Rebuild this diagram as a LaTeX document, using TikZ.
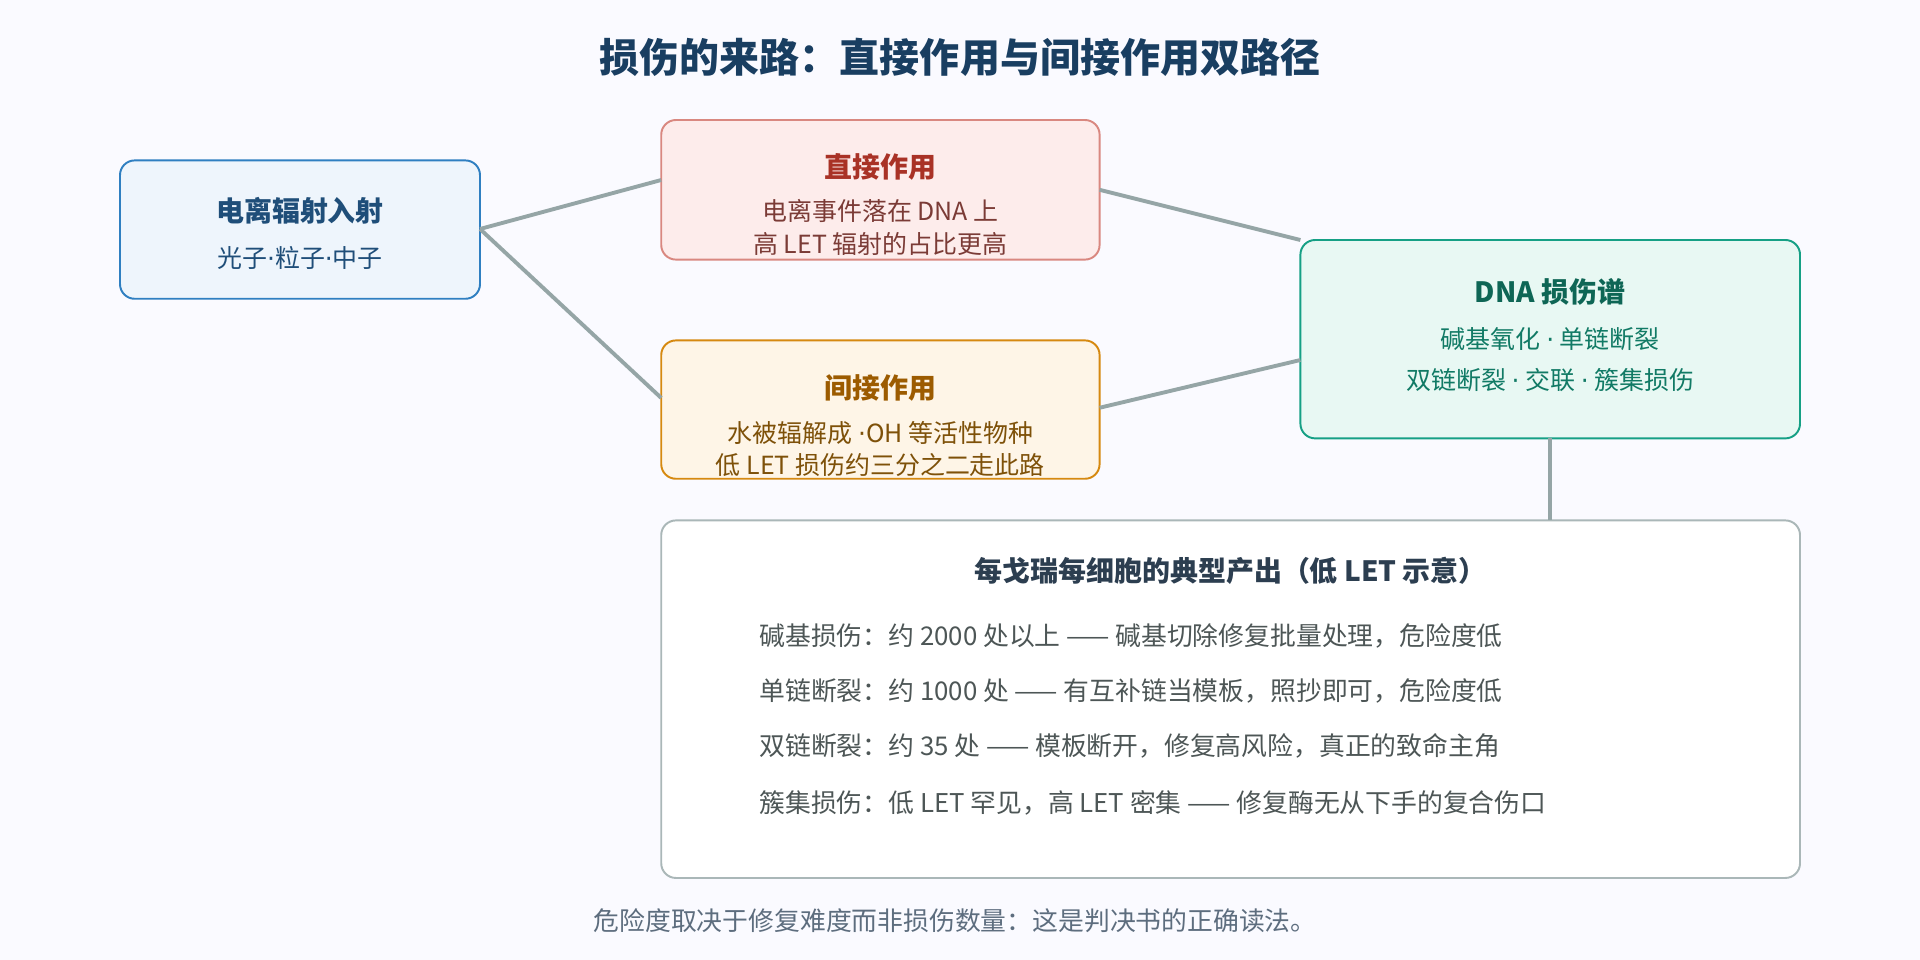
\documentclass[tikz,border=0pt]{standalone}
\usepackage{fontspec}
\setmainfont{Noto Sans CJK SC}
\newfontfamily\latd{DejaVu Sans}
\newcommand{\md}{{\latd ·}}
\begin{document}
\begin{tikzpicture}[x=0.02cm,y=-0.02cm,
 box/.style={draw,rounded corners=0.24cm,line width=0.9pt},
 conn/.style={draw=lk,line width=1.8pt},
 ttl/.style={font=\fontsize{13}{15}\selectfont\bfseries},
 txt/.style={font=\fontsize{11.6}{13}\selectfont},
 ln/.style={font=\fontsize{12}{14}\selectfont,text=c5t,anchor=west}]
\definecolor{lk}{HTML}{95A5A6}
\definecolor{c1f}{HTML}{EEF5FC}\definecolor{c1b}{HTML}{2F7FC1}\definecolor{c1t}{HTML}{1F4E79}
\definecolor{c2f}{HTML}{FDECEB}\definecolor{c2b}{HTML}{D98880}\definecolor{c2t}{HTML}{A93226}\definecolor{c2s}{HTML}{7B3B36}
\definecolor{c3f}{HTML}{FEF5E7}\definecolor{c3b}{HTML}{D68910}\definecolor{c3t}{HTML}{9C5B00}\definecolor{c3s}{HTML}{7E5109}
\definecolor{c4f}{HTML}{E8F8F3}\definecolor{c4b}{HTML}{16A085}\definecolor{c4t}{HTML}{0E6655}\definecolor{c4s}{HTML}{117A65}
\definecolor{c5b}{HTML}{AAB7B8}\definecolor{c5t}{HTML}{4D5656}\definecolor{c5h}{HTML}{2C3E50}
\definecolor{ft}{HTML}{5D6D7E}
\fill[white!98!blue] (0,0) rectangle (1568,784);
\useasboundingbox (0,0) rectangle (1568,784);
\node[font=\fontsize{18.6}{22}\selectfont\bfseries,text=c1t!80!black] (title) at (784,47) {损伤的来路：直接作用与间接作用双路径};
% boxes
\path[box,draw=c1b,fill=c1f] (98,131) rectangle (392,244);
\node[ttl,text=c1t] (t1) at (245,172) {电离辐射入射};
\node[txt,text=c1t] (s1) at (245,211) {光子\md 粒子\md 中子};
\path[box,draw=c2b,fill=c2f] (540,98) rectangle (898,212);
\node[ttl,text=c2t] (t2) at (719,136) {直接作用};
\node[txt,text=c2s] (s2a) at (719,172) {电离事件落在 DNA 上};
\node[txt,text=c2s] (s2b) at (719,199) {高 LET 辐射的占比更高};
\path[box,draw=c3b,fill=c3f] (540,278) rectangle (898,391);
\node[ttl,text=c3t] (t3) at (719,317) {间接作用};
\node[txt,text=c3s] (s3a) at (719,354) {水被辐解成 \md OH 等活性物种};
\node[txt,text=c3s] (s3b) at (719,380) {低 LET 损伤约三分之二走此路};
\path[box,draw=c4b,fill=c4f] (1062,196) rectangle (1470,358);
\node[ttl,text=c4t] (t4) at (1266,238) {DNA 损伤谱};
\node[txt,text=c4s] (s4a) at (1266,277) {碱基氧化 \md{} 单链断裂};
\node[txt,text=c4s] (s4b) at (1266,310) {双链断裂 \md{} 交联 \md{} 簇集损伤};
\path[box,draw=c5b,fill=white] (540,425) rectangle (1470,717);
\node[ttl,text=c5h] (t5) at (1005,466) {每戈瑞每细胞的典型产出（低 LET 示意）};
\node[ln] (l1) at (614,519) {碱基损伤：约 2000 处以上 —— 碱基切除修复批量处理，危险度低};
\node[ln] (l2) at (614,564) {单链断裂：约 1000 处 —— 有互补链当模板，照抄即可，危险度低};
\node[ln] (l3) at (614,609) {双链断裂：约 35 处 —— 模板断开，修复高风险，真正的致命主角};
\node[ln] (l4) at (614,656) {簇集损伤：低 LET 罕见，高 LET 密集 —— 修复酶无从下手的复合伤口};
\node[font=\fontsize{12}{14}\selectfont,text=ft] (foot) at (780,752) {危险度取决于修复难度而非损伤数量：这是判决书的正确读法。};
% connectors
\coordinate (a) at (392,187);
\coordinate (b1) at (540,147);\coordinate (b2) at (540,325);
\coordinate (c1) at (898,155);\coordinate (c2) at (898,333);
\coordinate (d1) at (1062,196);\coordinate (d2) at (1062,294);
\coordinate (e1) at (1266,358);\coordinate (e2) at (1266,425);
\draw[conn] (a)--(b1); \draw[conn] (a)--(b2);
\draw[conn] (c1)--(d1); \draw[conn] (c2)--(d2);
\draw[conn] (e1)--(e2);
\end{tikzpicture}
\end{document}
